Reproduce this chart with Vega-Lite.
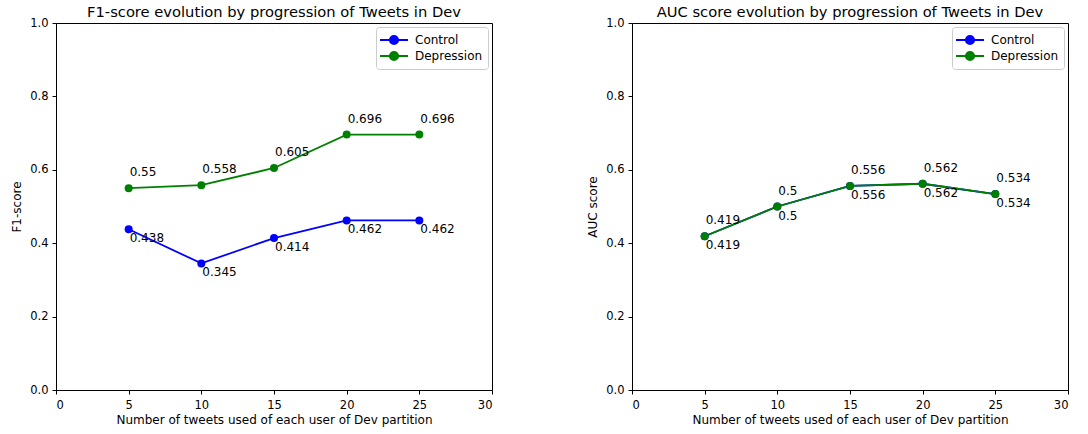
{
  "$schema": "https://vega.github.io/schema/vega-lite/v6.json",
  "padding": {"left": 10, "top": 4, "right": 13, "bottom": 4},
  "spacing": 140,
  "bounds": "flush",
  "datasets": {
    "f1": [
      {"tweets": 5, "group": "Control", "score": 0.438},
      {"tweets": 10, "group": "Control", "score": 0.345},
      {"tweets": 15, "group": "Control", "score": 0.414},
      {"tweets": 20, "group": "Control", "score": 0.462},
      {"tweets": 25, "group": "Control", "score": 0.462},
      {"tweets": 5, "group": "Depression", "score": 0.55},
      {"tweets": 10, "group": "Depression", "score": 0.558},
      {"tweets": 15, "group": "Depression", "score": 0.605},
      {"tweets": 20, "group": "Depression", "score": 0.696},
      {"tweets": 25, "group": "Depression", "score": 0.696}
    ],
    "auc": [
      {"tweets": 5, "group": "Control", "score": 0.419},
      {"tweets": 10, "group": "Control", "score": 0.5},
      {"tweets": 15, "group": "Control", "score": 0.556},
      {"tweets": 20, "group": "Control", "score": 0.562},
      {"tweets": 25, "group": "Control", "score": 0.534},
      {"tweets": 5, "group": "Depression", "score": 0.419},
      {"tweets": 10, "group": "Depression", "score": 0.5},
      {"tweets": 15, "group": "Depression", "score": 0.556},
      {"tweets": 20, "group": "Depression", "score": 0.562},
      {"tweets": 25, "group": "Depression", "score": 0.534}
    ]
  },
  "hconcat": [
    {
      "width": 436,
      "height": 367,
      "title": "F1-score evolution by progression of Tweets in Dev",
      "data": {"name": "f1"},
      "encoding": {
        "x": {"field": "tweets", "type": "quantitative", "scale": {"domain": [0, 30]},
              "axis": {"values": [0, 5, 10, 15, 20, 25, 30], "title": "Number of tweets used of each user of Dev partition"}},
        "y": {"field": "score", "type": "quantitative", "scale": {"domain": [0, 1]},
              "axis": {"values": [0, 0.2, 0.4, 0.6, 0.8, 1.0], "format": ".1f", "title": "F1-score"}},
        "color": {"field": "group", "type": "nominal",
                  "scale": {"domain": ["Control", "Depression"], "range": ["#0000ff", "#008000"]},
                  "legend": {"title": null}}
      },
      "layer": [
        {"mark": {"type": "line", "strokeWidth": 1.8}},
        {"mark": {"type": "point", "filled": true, "size": 64, "opacity": 1}},
        {"transform": [{"filter": "datum.group === 'Control'"}],
         "mark": {"type": "text", "align": "left", "baseline": "top", "dx": 1, "dy": 4, "fontSize": 12},
         "encoding": {"text": {"field": "score", "type": "quantitative", "format": "~g"}, "color": {"value": "black"}}},
        {"transform": [{"filter": "datum.group === 'Depression'"}],
         "mark": {"type": "text", "align": "left", "baseline": "bottom", "dx": 1, "dy": -9, "fontSize": 12},
         "encoding": {"text": {"field": "score", "type": "quantitative", "format": "~g"}, "color": {"value": "black"}}}
      ]
    },
    {
      "width": 436,
      "height": 367,
      "title": "AUC score evolution by progression of Tweets in Dev",
      "data": {"name": "auc"},
      "encoding": {
        "x": {"field": "tweets", "type": "quantitative", "scale": {"domain": [0, 30]},
              "axis": {"values": [0, 5, 10, 15, 20, 25, 30], "title": "Number of tweets used of each user of Dev partition"}},
        "y": {"field": "score", "type": "quantitative", "scale": {"domain": [0, 1]},
              "axis": {"values": [0, 0.2, 0.4, 0.6, 0.8, 1.0], "format": ".1f", "title": "AUC score"}},
        "color": {"field": "group", "type": "nominal",
                  "scale": {"domain": ["Control", "Depression"], "range": ["#0000ff", "#008000"]},
                  "legend": {"title": null}}
      },
      "layer": [
        {"mark": {"type": "line", "strokeWidth": 1.8}},
        {"mark": {"type": "point", "filled": true, "size": 64, "opacity": 1}},
        {"transform": [{"filter": "datum.group === 'Control'"}],
         "mark": {"type": "text", "align": "left", "baseline": "top", "dx": 1, "dy": 4, "fontSize": 12},
         "encoding": {"text": {"field": "score", "type": "quantitative", "format": "~g"}, "color": {"value": "black"}}},
        {"transform": [{"filter": "datum.group === 'Depression'"}],
         "mark": {"type": "text", "align": "left", "baseline": "bottom", "dx": 1, "dy": -9, "fontSize": 12},
         "encoding": {"text": {"field": "score", "type": "quantitative", "format": "~g"}, "color": {"value": "black"}}}
      ]
    }
  ],
  "resolve": {"legend": {"color": "independent"}},
  "config": {
    "font": "DejaVu Sans",
    "view": {"stroke": "black", "strokeWidth": 1},
    "axis": {
      "domainColor": "black", "tickColor": "black", "labelColor": "black", "titleColor": "black",
      "labelFontSize": 11.5, "titleFontSize": 12, "titleFontWeight": "normal",
      "grid": false, "tickSize": 4, "labelPadding": 2, "titlePadding": 4
    },
    "axisX": {"labelPadding": 5},
    "axisY": {"labelPadding": 4, "titlePadding": 6},
    "title": {"fontSize": 14.7, "fontWeight": "normal", "color": "black", "offset": -3},
    "legend": {
      "orient": "top-right", "offset": 4, "padding": 5,
      "strokeColor": "#cccccc", "fillColor": "white", "cornerRadius": 3,
      "labelFontSize": 12, "labelColor": "black", "labelOffset": 13,
      "symbolType": "M-2,0L2,0M0.6,0A0.6,0.6,0,1,1,-0.6,0A0.6,0.6,0,1,1,0.6,0",
      "symbolSize": 196, "symbolOffset": 5, "symbolStrokeWidth": 1.8, "rowPadding": 0
    }
  }
}
